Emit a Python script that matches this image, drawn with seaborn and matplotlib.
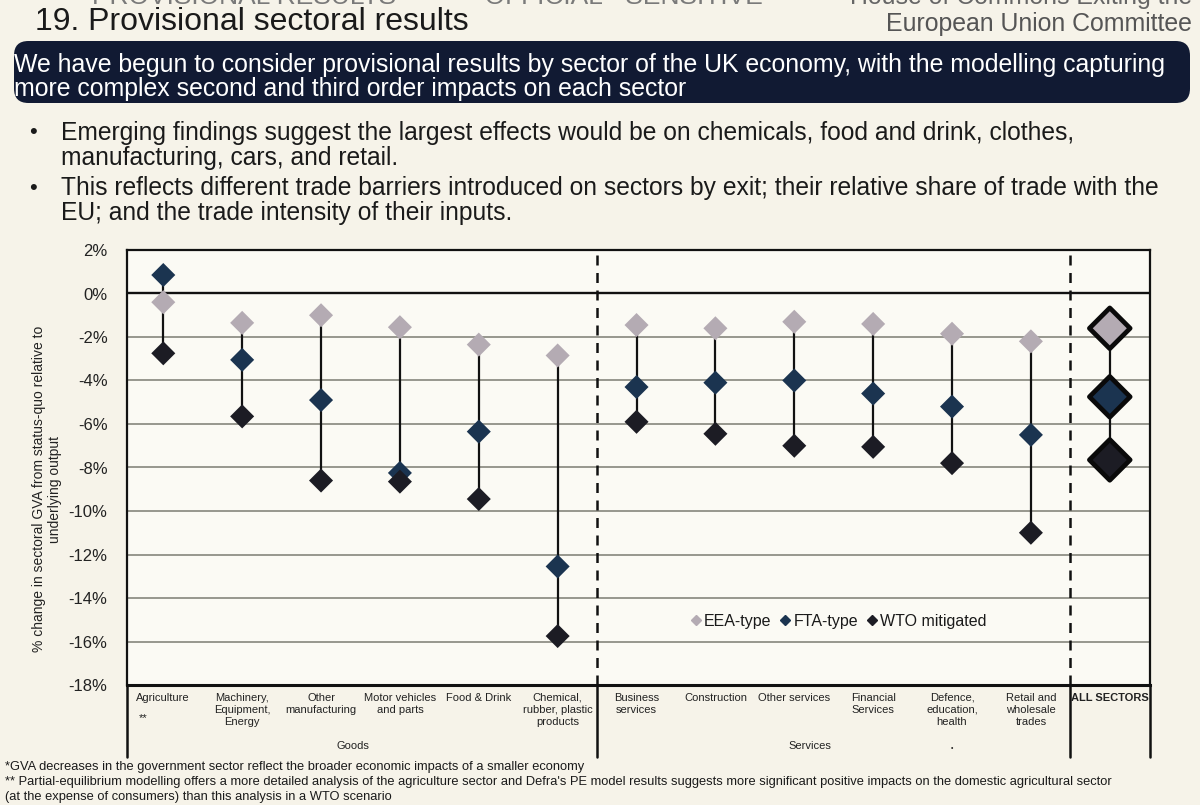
import numpy as np
import pandas as pd
import matplotlib
matplotlib.use("Agg")
import matplotlib.pyplot as plt
from matplotlib.lines import Line2D
from matplotlib.patches import FancyBboxPatch
import seaborn as sns

# ---------------- data ----------------
sectors = ["Agriculture", "Machinery,\nEquipment,\nEnergy", "Other\nmanufacturing",
           "Motor vehicles\nand parts", "Food & Drink", "Chemical,\nrubber, plastic\nproducts",
           "Business\nservices", "Construction", "Other services", "Financial\nServices",
           "Defence,\neducation,\nhealth", "Retail and\nwholesale\ntrades", "ALL SECTORS"]
eea = [-0.4, -1.35, -1.0, -1.55, -2.35, -2.85, -1.45, -1.6, -1.3, -1.4, -1.85, -2.2, -1.6]
fta = [0.85, -3.05, -4.9, -8.25, -6.35, -12.55, -4.3, -4.1, -4.0, -4.6, -5.2, -6.5, -4.75]
wto = [-2.75, -5.65, -8.6, -8.65, -9.45, -15.75, -5.9, -6.45, -7.0, -7.05, -7.8, -11.0, -7.65]
scenarios = ["EEA-type", "FTA-type", "WTO mitigated"]
yticks = list(range(-18, 3, 2))
groups = ["Goods", "Services"]

colors = {"EEA-type": "#b4abb3", "FTA-type": "#1b3450", "WTO mitigated": "#1c1c24"}

rows = []
for i, s in enumerate(sectors):
    for sc, vals in zip(scenarios, [eea, fta, wto]):
        rows.append({"pos": i, "sector": s, "scenario": sc, "value": vals[i]})
df = pd.DataFrame(rows)
n = len(sectors)
df_main = df[df["pos"] < n - 1]
df_all = df[df["pos"] == n - 1]

# ---------------- figure ----------------
sns.set_theme(style="white")
plt.rcParams["font.family"] = ["Liberation Sans", "DejaVu Sans"]
bg = "#f6f3e9"
fig = plt.figure(figsize=(12, 8.05), dpi=100, facecolor=bg)

W, H = 1200, 805
def fx(px): return px / W
def fy(py): return 1 - py / H

ax = fig.add_axes([fx(127), fy(685), fx(1150) - fx(127), fy(250) - fy(685)])
ax.set_facecolor("#fbfaf4")

# gridlines
for v in yticks[1:-1]:
    if v == 0:
        ax.axhline(v, color="#111111", lw=1.7, zorder=1)
    else:
        ax.axhline(v, color="#8f8f86", lw=1.3, zorder=1)

# connecting lines
lo = [min(a, b, c) for a, b, c in zip(eea, fta, wto)]
hi = [max(a, b, c) for a, b, c in zip(eea, fta, wto)]
ax.vlines(range(n), lo, hi, color="#111111", lw=1.6, zorder=2)

sns.scatterplot(data=df_main, x="pos", y="value", hue="scenario", palette=colors,
                hue_order=scenarios, marker="D", s=150, linewidth=0, legend=False,
                ax=ax, zorder=3)
sns.scatterplot(data=df_all, x="pos", y="value", hue="scenario", palette=colors,
                hue_order=scenarios, marker="D", s=430, edgecolor="#0a0a0a",
                linewidth=3.4, legend=False, ax=ax, zorder=3)

ax.set_xlim(-0.46, 12.51)
ax.set_ylim(-18, 2)
ax.set_yticks(yticks)
ax.set_yticklabels([f"{v}%" for v in yticks], fontsize=12, color="#222222")
ax.tick_params(axis="y", length=0, pad=14)
ax.set_xticks([])
ax.set_xlabel("")
ax.set_ylabel("% change in sectoral GVA from status-quo relative to\nunderlying output",
              fontsize=10, color="#222222", linespacing=1.1)
ax.yaxis.set_label_coords(-0.064, 0.45)
for sp in ax.spines.values():
    sp.set_color("#111111")
    sp.set_linewidth(1.6)
ax.spines["bottom"].set_linewidth(2.2)

# separators (dashed inside, solid below)
xt = ax.get_xaxis_transform()
for xs in [5.5, 11.5]:
    ax.plot([xs, xs], [0, 1], color="#111111", lw=1.8, ls=(0, (4, 3)), transform=xt,
            zorder=2)
for xs in [-0.46, 5.5, 11.5, 12.51]:
    ax.plot([xs, xs], [0, -0.165], color="#111111", lw=1.8, transform=xt, clip_on=False)

# category labels
for i, s in enumerate(sectors):
    ax.text(i, -0.018, s, transform=xt, ha="center", va="top", fontsize=8,
            linespacing=1.25, color="#222222", fontweight="bold" if i == n - 1 else "normal")
ax.text(-0.25, -0.075, "**", transform=xt, ha="center", va="center", fontsize=8, color="#222222")
ax.text(2.4, -0.14, groups[0], transform=xt, ha="center", va="center", fontsize=8, color="#222222")
ax.text(8.2, -0.14, groups[1], transform=xt, ha="center", va="center", fontsize=8, color="#222222")
ax.text(10.0, -0.145, "•", transform=xt, ha="center", va="center", fontsize=5, color="#222222")

# legend
handles = [Line2D([], [], marker="D", color=colors[sc], ls="none", markersize=5) for sc in scenarios]
ax.legend(handles, scenarios, loc="center", bbox_to_anchor=(0.695, 0.147), ncol=3,
          frameon=False, fontsize=11.5, handletextpad=0.1, columnspacing=0.5,
          handlelength=0.8, labelcolor="#1a1a1a")

# ---------------- header text ----------------
fig.text(fx(35), fy(22), "19. Provisional sectoral results", fontsize=23,
         color="#1a1a1a", ha="left", va="center")
fig.text(fx(1192), fy(24), "European Union Committee", fontsize=17.9, color="#555555",
         ha="right", va="center")
fig.text(fx(1192), fy(-3), "House of Commons Exiting the", fontsize=17.9, color="#666666",
         ha="right", va="center")
fig.text(fx(92), fy(-3), "PROVISIONAL RESULTS     –     OFFICIAL - SENSITIVE", fontsize=19,
         color="#7a7a7a", ha="left", va="center")

box = FancyBboxPatch((fx(14), fy(103)), fx(1190) - fx(14), fy(41) - fy(103),
                     boxstyle="round,pad=0,rounding_size=0.012", mutation_aspect=W / H,
                     transform=fig.transFigure, facecolor="#111a33", edgecolor="none")
fig.patches.append(box)
fig.text(fx(14), fy(65), "We have begun to consider provisional results by sector of the UK economy, with the modelling capturing",
         fontsize=17.9, color="white", ha="left", va="center")
fig.text(fx(14), fy(89), "more complex second and third order impacts on each sector",
         fontsize=17.9, color="white", ha="left", va="center")

bullets = [
    ("Emerging findings suggest the largest effects would be on chemicals, food and drink, clothes,", 133, True),
    ("manufacturing, cars, and retail.", 158, False),
    ("This reflects different trade barriers introduced on sectors by exit; their relative share of trade with the", 188, True),
    ("EU; and the trade intensity of their inputs.", 213, False),
]
for txt, yy, b in bullets:
    if b:
        fig.text(fx(33), fy(yy), "•", fontsize=16, color="#1a1a1a", ha="center", va="center")
    fig.text(fx(61), fy(yy), txt, fontsize=17.7, color="#1a1a1a", ha="left", va="center")

# footnotes
fig.text(fx(5), fy(767), "*GVA decreases in the government sector reflect the broader economic impacts of a smaller economy",
         fontsize=9.3, color="#1a1a1a", ha="left", va="center")
fig.text(fx(5), fy(782), "** Partial-equilibrium modelling offers a more detailed analysis of the agriculture sector and Defra's PE model results suggests more significant positive impacts on the domestic agricultural sector",
         fontsize=9.3, color="#1a1a1a", ha="left", va="center")
fig.text(fx(5), fy(797), "(at the expense of consumers) than this analysis in a WTO scenario",
         fontsize=9.3, color="#1a1a1a", ha="left", va="center")

fig.savefig("out.png", dpi=100, facecolor=bg)
